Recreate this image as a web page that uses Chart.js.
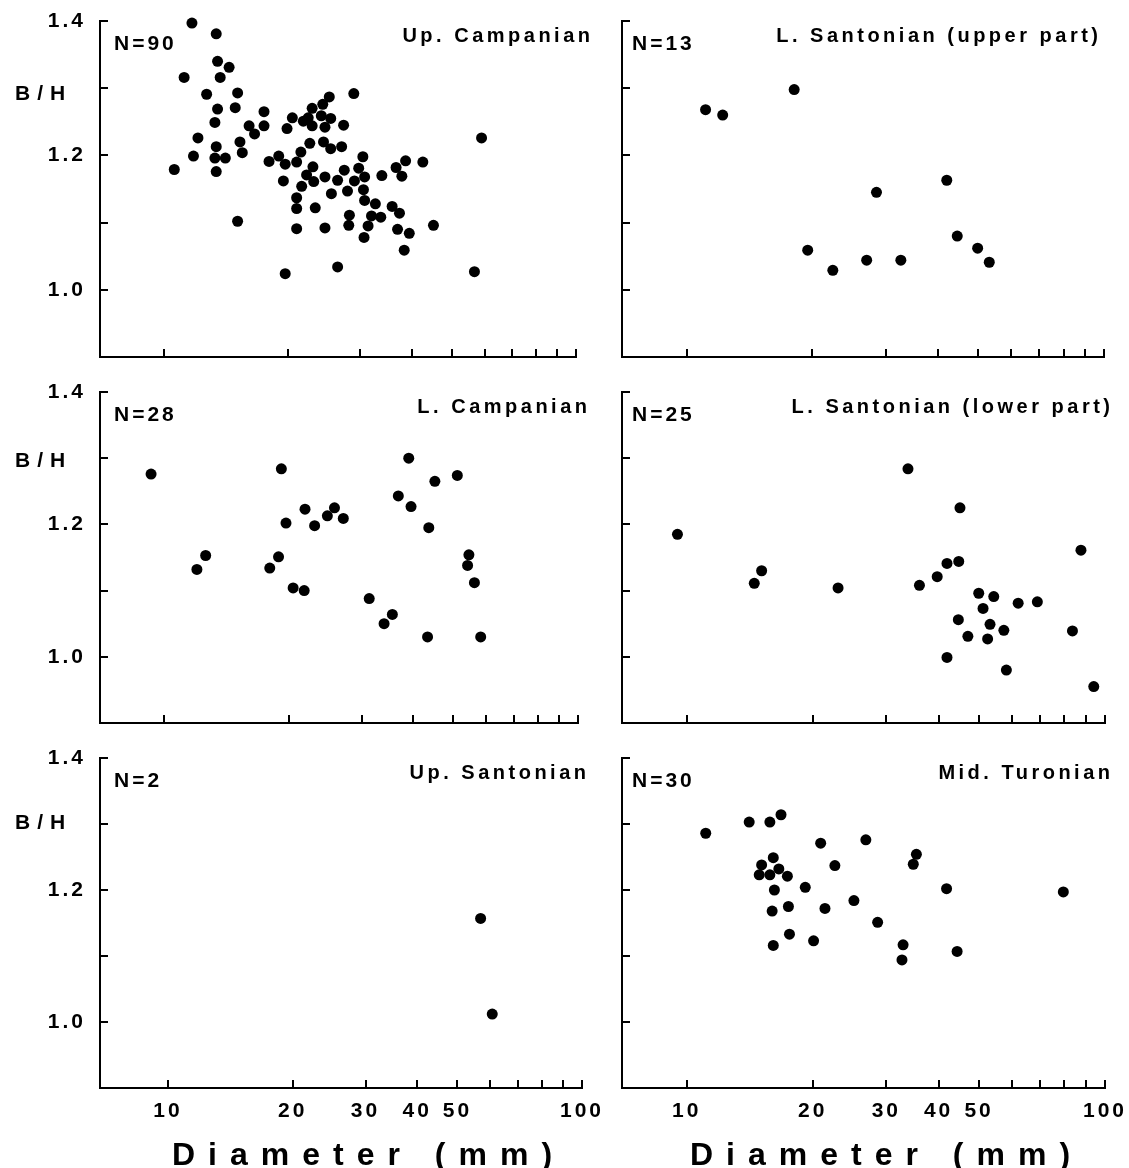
<!DOCTYPE html>
<html>
<head>
<meta charset="utf-8">
<script src="https://cdn.jsdelivr.net/npm/chart.js@4.4.1/dist/chart.umd.min.js"></script>
<style>
  body { margin: 0; background: #fff; width: 1129px; height: 1168px; position: relative; overflow: hidden;
         font-family: "Liberation Sans", Arial, sans-serif; font-weight: bold; color: #000; }
  canvas { position: absolute; }
  .lbl { position: absolute; white-space: nowrap; font-weight: bold; line-height: 1; }
</style>
</head>
<body>
<script>
// axis ticks
const xTickValues = [10, 20, 30, 40, 50, 60, 70, 80, 90, 100];
const xTickLabels = [10, 20, 30, 40, 50, 100];
const yTickValues = [1.0, 1.1, 1.2, 1.3, 1.4];
const yTickLabels = [1.0, 1.2, 1.4];

// Up. Campanian (N=90)
const upCampanianD = [11.7, 11.2, 10.6, 11.8, 12.1, 12.7, 13.4, 13.5, 13.7, 14.4,
  13.5, 13.3, 13.4, 13.3, 13.4, 14.1, 15.1, 14.9, 15.3, 15.5,
  15.1, 16.1, 16.6, 17.5, 17.5, 18.0, 19.0, 19.9, 20.5, 19.7,
  19.5, 19.7, 21.0, 21.5, 21.8, 22.4, 22.9, 22.9, 22.6, 23.0,
  22.2, 23.1, 21.6, 21.0, 21.0, 21.0, 23.3, 24.3, 24.1, 25.2,
  25.4, 24.6, 24.4, 25.4, 24.6, 25.5, 24.6, 26.4, 26.4, 27.0,
  27.3, 27.4, 27.9, 28.2, 28.1, 28.9, 29.0, 29.7, 30.4, 30.7,
  30.5, 30.7, 30.6, 31.3, 31.9, 32.6, 33.6, 33.8, 35.8, 36.6,
  37.3, 37.8, 38.6, 36.9, 38.3, 39.4, 42.5, 45.1, 56.7, 59.0];
const upCampanianBH = [1.397, 1.316, 1.179, 1.199, 1.226, 1.291, 1.381, 1.340, 1.316, 1.331,
  1.269, 1.249, 1.213, 1.196, 1.176, 1.196, 1.293, 1.271, 1.220, 1.204,
  1.102, 1.244, 1.232, 1.265, 1.244, 1.191, 1.199, 1.240, 1.256, 1.187,
  1.162, 1.024, 1.190, 1.205, 1.251, 1.256, 1.270, 1.244, 1.218, 1.183,
  1.171, 1.161, 1.154, 1.137, 1.121, 1.091, 1.122, 1.276, 1.259, 1.287,
  1.255, 1.242, 1.220, 1.210, 1.168, 1.143, 1.092, 1.034, 1.163, 1.213,
  1.245, 1.178, 1.147, 1.111, 1.096, 1.292, 1.162, 1.181, 1.198, 1.168,
  1.149, 1.133, 1.078, 1.095, 1.110, 1.128, 1.108, 1.170, 1.124, 1.182,
  1.114, 1.169, 1.192, 1.090, 1.059, 1.084, 1.190, 1.096, 1.027, 1.226];

// L. Santonian (upper part) (N=13)
const lSantUpperD = [11.1, 12.2, 18.1, 19.5, 22.4, 27.0, 28.5, 32.6, 42.0, 44.5, 49.8, 53.1];
const lSantUpperBH = [1.268, 1.260, 1.298, 1.059, 1.029, 1.044, 1.145, 1.044, 1.163, 1.080, 1.062, 1.041];

// L. Campanian (N=28)
const lCampanianD = [9.3, 12.0, 12.6, 18.0, 18.9, 19.2, 19.7, 20.5, 21.8, 21.9,
  23.1, 24.8, 25.8, 27.1, 31.3, 34.0, 35.6, 36.8, 39.0, 39.5,
  43.3, 43.6, 45.1, 51.1, 54.5, 54.1, 56.2, 58.2];
const lCampanianBH = [1.276, 1.132, 1.153, 1.134, 1.151, 1.284, 1.202, 1.104, 1.100, 1.223,
  1.198, 1.213, 1.225, 1.209, 1.088, 1.050, 1.064, 1.243, 1.300, 1.227,
  1.030, 1.195, 1.265, 1.274, 1.154, 1.138, 1.112, 1.030];

// L. Santonian (lower part) (N=25)
const lSantLowerD = [9.5, 14.5, 15.1, 23.0, 33.8, 36.0, 39.7, 41.9, 44.7, 45.0,
  41.9, 44.6, 47.0, 49.9, 51.1, 53.1, 54.2, 52.4, 57.3, 58.1,
  62.0, 68.9, 83.6, 87.6, 94.0];
const lSantLowerBH = [1.185, 1.111, 1.130, 1.104, 1.284, 1.108, 1.121, 1.141, 1.144, 1.225,
  0.999, 1.056, 1.031, 1.096, 1.073, 1.049, 1.091, 1.027, 1.040, 0.980,
  1.081, 1.083, 1.039, 1.161, 0.955];

// Up. Santonian (N=2)
const upSantonianD = [56.9, 60.7];
const upSantonianBH = [1.157, 1.012];

// Mid. Turonian (N=30)
const midTuronianD = [11.1, 14.1, 15.8, 16.8, 15.1, 14.9, 15.8, 16.1, 16.6, 17.4,
  16.2, 16.0, 17.5, 17.6, 16.1, 19.2, 20.9, 22.6, 21.4, 20.1,
  25.1, 26.8, 28.6, 32.9, 32.7, 34.8, 35.4, 41.8, 44.3, 79.5];
const midTuronianBH = [1.286, 1.303, 1.303, 1.314, 1.238, 1.223, 1.223, 1.249, 1.232, 1.221,
  1.200, 1.168, 1.175, 1.133, 1.116, 1.204, 1.271, 1.237, 1.172, 1.123,
  1.184, 1.276, 1.151, 1.117, 1.094, 1.239, 1.254, 1.202, 1.107, 1.197];

const panelTitles = ['Up. Campanian', 'L. Santonian (upper part)', 'L. Campanian',
  'L. Santonian (lower part)', 'Up. Santonian', 'Mid. Turonian'];
const panelCounts = ['N=90', 'N=13', 'N=28', 'N=25', 'N=2', 'N=30'];
const panelData = [
  [upCampanianD, upCampanianBH], [lSantUpperD, lSantUpperBH],
  [lCampanianD, lCampanianBH], [lSantLowerD, lSantLowerBH],
  [upSantonianD, upSantonianBH], [midTuronianD, midTuronianBH]
];

// page geometry (px)
const colLeft = [0, 600], colWidth = [612, 529];
const areaLeft = [100, 622];
const areaRight = [[576, 1104], [578, 1105], [582, 1105]];
const rowTop = [21, 392, 758], rowBottom = [357, 723, 1088];
const xMin = [[7, 7], [7, 7], [6.85, 7]];
const titleRight = [[590, 1098], [587, 1110], [586, 1110]];
const bhTop = [82, 449, 811];
const padTop = 14;

const labelFont = '"Liberation Sans", Arial, sans-serif';

// short tick marks pointing into the plot, and letter spacing for tick labels
const inwardTicks = {
  id: 'inwardTicks',
  beforeUpdate(chart) { chart.ctx.letterSpacing = '3px'; },
  beforeDraw(chart) { chart.ctx.letterSpacing = '3px'; },
  afterDraw(chart) {
    const { ctx, chartArea: a, scales: { x, y } } = chart;
    ctx.save();
    ctx.strokeStyle = '#000';
    ctx.lineWidth = 2;
    ctx.beginPath();
    xTickValues.forEach(v => {
      const px = Math.round(x.getPixelForValue(v));
      ctx.moveTo(px, a.bottom);
      ctx.lineTo(px, a.bottom - 8);
    });
    yTickValues.forEach(v => {
      const py = Math.round(y.getPixelForValue(v));
      ctx.moveTo(a.left, py);
      ctx.lineTo(a.left + 8, py);
    });
    ctx.stroke();
    ctx.restore();
  }
};

function addLabel(text, css) {
  const el = document.createElement('div');
  el.className = 'lbl';
  el.textContent = text;
  Object.assign(el.style, css);
  document.body.appendChild(el);
}

panelData.forEach(([d, bh], i) => {
  const col = i % 2, row = Math.floor(i / 2);
  const bottomRow = row === 2;
  const xH = bottomRow ? 50 : 6;
  const h = rowBottom[row] - rowTop[row] + padTop + xH;
  const yW = areaLeft[col] - colLeft[col];
  const padR = colLeft[col] + colWidth[col] - areaRight[row][col];

  const canvas = document.createElement('canvas');
  canvas.width = colWidth[col];
  canvas.height = h;
  canvas.style.left = colLeft[col] + 'px';
  canvas.style.top = (rowTop[row] - padTop) + 'px';
  canvas.style.width = colWidth[col] + 'px';
  canvas.style.height = h + 'px';
  document.body.appendChild(canvas);

  new Chart(canvas, {
    type: 'scatter',
    data: {
      datasets: [{
        data: d.map((v, k) => ({ x: v, y: bh[k] })),
        backgroundColor: '#000',
        borderWidth: 0,
        pointRadius: 5.5,
        clip: false
      }]
    },
    options: {
      responsive: false,
      animation: false,
      events: [],
      layout: { padding: { top: padTop, right: padR, left: 0, bottom: 0 } },
      plugins: { legend: { display: false }, tooltip: { enabled: false } },
      scales: {
        x: {
          type: 'logarithmic',
          min: xMin[row][col], max: 100,
          grid: { display: false },
          border: { display: true, color: '#000', width: 2 },
          afterBuildTicks: s => { s.ticks = xTickValues.map(v => ({ value: v })); },
          afterFit: s => { s.height = xH; s.paddingLeft = 0; s.paddingRight = 0; },
          ticks: {
            display: bottomRow,
            autoSkip: false, maxRotation: 0, padding: 3,
            color: '#000',
            font: { family: labelFont, size: 21, weight: 'bold' },
            callback: v => xTickLabels.includes(v) ? String(v) : ''
          }
        },
        y: {
          min: 0.9, max: 1.4,
          grid: { display: false },
          border: { display: true, color: '#000', width: 2 },
          afterBuildTicks: s => { s.ticks = yTickValues.map(v => ({ value: v })); },
          afterFit: s => { s.width = yW; s.paddingTop = 0; s.paddingBottom = 0; },
          ticks: {
            display: col === 0,
            padding: 6,
            color: '#000',
            font: { family: labelFont, size: 21, weight: 'bold' },
            callback: v => yTickLabels.some(t => Math.abs(t - v) < 1e-6) ? v.toFixed(1) : ''
          }
        }
      }
    },
    plugins: [inwardTicks]
  });

  addLabel(panelCounts[i], { left: (areaLeft[col] + (col === 0 ? 14 : 10)) + 'px',
    top: (rowTop[row] + 11) + 'px', fontSize: '21px', letterSpacing: '3px' });
  addLabel(panelTitles[i], { right: (1129 - titleRight[row][col] - 3.5) + 'px',
    top: (rowTop[row] + 4) + 'px', fontSize: '20px', letterSpacing: '3.5px' });
  if (col === 0) {
    addLabel('B/H', { left: '15px', top: bhTop[row] + 'px', fontSize: '21px', letterSpacing: '7px' });
  }
  if (bottomRow) {
    addLabel('Diameter (mm)', { left: (col === 0 ? 172 : 690) + 'px', top: '1138px',
      fontSize: '32px', letterSpacing: '13px' });
  }
});
</script>
</body>
</html>
